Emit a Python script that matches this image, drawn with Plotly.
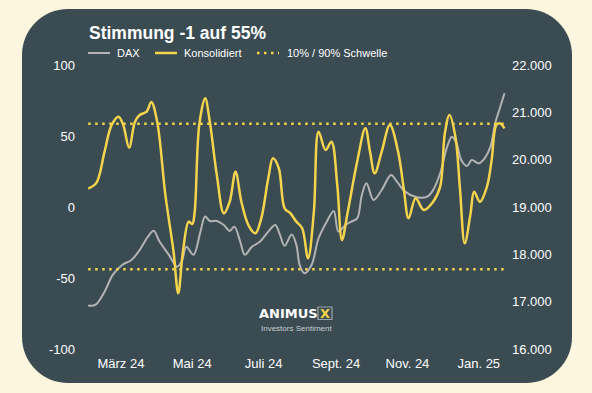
import plotly.graph_objects as go

# ---------------- data ----------------
sent_dates = [
    "2024-02-02", "2024-02-09", "2024-02-16", "2024-02-22", "2024-02-28", "2024-03-03",
    "2024-03-08", "2024-03-13", "2024-03-17", "2024-03-23", "2024-03-27", "2024-04-01",
    "2024-04-08", "2024-04-15", "2024-04-19", "2024-04-23", "2024-04-28", "2024-05-01",
    "2024-05-03", "2024-05-07", "2024-05-12", "2024-05-16", "2024-05-22", "2024-05-28",
    "2024-06-02", "2024-06-07", "2024-06-12", "2024-06-18", "2024-06-24", "2024-06-29",
    "2024-07-05", "2024-07-09", "2024-07-14", "2024-07-19", "2024-07-24", "2024-07-29",
    "2024-08-03", "2024-08-08", "2024-08-13", "2024-08-17", "2024-08-23", "2024-08-28",
    "2024-09-02", "2024-09-06", "2024-09-11", "2024-09-19", "2024-09-26", "2024-09-30",
    "2024-10-04", "2024-10-10", "2024-10-17", "2024-10-24", "2024-10-29", "2024-11-02",
    "2024-11-08", "2024-11-15", "2024-11-23", "2024-11-29", "2024-12-03", "2024-12-07",
    "2024-12-12", "2024-12-16", "2024-12-20", "2024-12-25", "2024-12-28", "2025-01-02",
    "2025-01-08", "2025-01-12", "2025-01-16", "2025-01-19", "2025-01-23",
]
sent_values = [
    13, 17, 39, 57.7, 63.6, 57.7,
    41.8, 60, 64.8, 67.1, 74, 60,
    8.5, -31.5, -60.8, -31.5, -10.3, -12,
    -4, 58, 76.5, 60, 22.5, -4.5,
    3.7, 24.9, 3.7, -12.7, -18.5, -8,
    20.2, 34.3, 27.3, -0.9, -4.5, -10.3,
    -15, -36.1, -3.3, 53, 40.1, 46,
    15.5, -23.2, -3.3, 31.9, 55.4, 39,
    23.7, 39, 57.7, 39, 12, -8,
    6.1, -2.1, 3.7, 14.3, 51.9, 64.8,
    49.5, 12, -25.6, -4.5, 10.8, 3.7,
    14.3, 33.1, 57.7, 58.9, 55.4,
]

dax_dates = [
    "2024-02-02", "2024-02-08", "2024-02-16", "2024-02-23", "2024-03-02", "2024-03-10",
    "2024-03-17", "2024-03-24", "2024-03-29", "2024-04-03", "2024-04-11", "2024-04-18",
    "2024-04-22", "2024-04-26", "2024-05-02", "2024-05-08", "2024-05-12", "2024-05-16",
    "2024-05-22", "2024-05-28", "2024-06-02", "2024-06-06", "2024-06-11", "2024-06-15",
    "2024-06-21", "2024-06-28", "2024-07-05", "2024-07-11", "2024-07-15", "2024-07-19",
    "2024-07-25", "2024-07-29", "2024-08-01", "2024-08-05", "2024-08-11", "2024-08-17",
    "2024-08-24", "2024-08-30", "2024-09-03", "2024-09-09", "2024-09-14", "2024-09-19",
    "2024-09-23", "2024-09-27", "2024-10-03", "2024-10-10", "2024-10-18", "2024-10-23",
    "2024-10-30", "2024-11-09", "2024-11-18", "2024-11-23", "2024-11-29", "2024-12-05",
    "2024-12-09", "2024-12-13", "2024-12-17", "2024-12-22", "2024-12-26", "2025-01-01",
    "2025-01-06", "2025-01-11", "2025-01-15", "2025-01-19", "2025-01-23",
]
dax_values = [
    16920, 16930, 17210, 17565, 17776, 17880,
    18090, 18370, 18500, 18270, 17990, 17740,
    17850, 18160, 17990, 18480, 18800, 18705,
    18705, 18620, 18495, 18585, 18270, 17990,
    18160, 18270, 18480, 18620, 18410, 18180,
    18420, 18200, 17760, 17600, 17776, 18340,
    18690, 18917, 18480, 18620, 18690, 18760,
    19250, 19500, 19150, 19360, 19677, 19535,
    19324, 19205, 19219, 19360, 19712, 20275,
    20486, 20346, 19994, 19867, 19994, 19923,
    20029, 20275, 20767, 21085, 21402,
]

threshold_dates = ["2024-02-02", "2025-01-23"]
threshold_values = [-43.9, 58.7]  # 10% / 90%

series_names = ["DAX", "Konsolidiert", "10% / 90% Schwelle"]
title_text = "Stimmung -1 auf 55%"

month_tickvals = ["2024-03-01", "2024-05-01", "2024-07-01", "2024-09-01", "2024-11-01", "2025-01-01"]
month_ticktext = ["März 24", "Mai 24", "Juli 24", "Sept. 24", "Nov. 24", "Jan. 25"]
left_tickvals = [-100, -50, 0, 50, 100]
left_ticktext = ["-100", "-50", "0", "50", "100"]
right_tickvals = [16000, 17000, 18000, 19000, 20000, 21000, 22000]

# ---------------- style ----------------
W, H = 592, 393
L, R, T, B = 80, 84, 65, 44
PW, PH = W - L - R, H - T - B
BG = "#FDF6DE"
PANEL = "#3A4B52"
YELLOW = "#F3D44C"
GRAY = "#B3B3B3"
FONT = "Arial, Liberation Sans, sans-serif"


def px(x):
    return (x - L) / PW


def py(y):
    return (H - B - y) / PH


fig = go.Figure()

# DAX on primary (right side) axis
fig.add_trace(go.Scatter(
    x=dax_dates, y=dax_values, name=series_names[0], mode="lines",
    line=dict(color=GRAY, width=2, shape="spline", smoothing=1.0),
    yaxis="y", showlegend=False, hoverinfo="skip"))

# thresholds + sentiment on overlaying (left side) axis
for tv in threshold_values:
    fig.add_trace(go.Scatter(
        x=threshold_dates, y=[tv, tv], name=series_names[2], mode="lines",
        line=dict(color=YELLOW, width=2.5, dash="2.5px,4.5px"),
        yaxis="y2", showlegend=False, hoverinfo="skip"))

fig.add_trace(go.Scatter(
    x=sent_dates, y=sent_values, name=series_names[1], mode="lines",
    line=dict(color=YELLOW, width=2.5, shape="spline", smoothing=1.0),
    yaxis="y2", showlegend=False, hoverinfo="skip"))

# rounded panel
x0, x1, y0, y1, r = 22, 572, 9, 383, 46
k = 0.5523


def P(x, y):
    return f"{px(x):.5f},{py(y):.5f}"


path = (
    f"M {P(x0 + r, y0)} L {P(x1 - r, y0)} "
    f"C {P(x1 - r + k * r, y0)} {P(x1, y0 + r - k * r)} {P(x1, y0 + r)} "
    f"L {P(x1, y1 - r)} "
    f"C {P(x1, y1 - r + k * r)} {P(x1 - r + k * r, y1)} {P(x1 - r, y1)} "
    f"L {P(x0 + r, y1)} "
    f"C {P(x0 + r - k * r, y1)} {P(x0, y1 - r + k * r)} {P(x0, y1 - r)} "
    f"L {P(x0, y0 + r)} "
    f"C {P(x0, y0 + r - k * r)} {P(x0 + r - k * r, y0)} {P(x0 + r, y0)} Z"
)
shapes = [dict(type="path", path=path, xref="paper", yref="paper",
               fillcolor=PANEL, line=dict(width=0), layer="below")]

# custom legend
legend_items = [
    (88, 110, 115, GRAY, "solid", 2, series_names[0]),
    (155, 177, 182, YELLOW, "solid", 2.5, series_names[1]),
    (257, 279, 285, YELLOW, "2.5px,4.5px", 2.5, series_names[2]),
]
annotations = []
ly = 53
for (a, b, tx, col, dash, wdt, name) in legend_items:
    shapes.append(dict(type="line", xref="paper", yref="paper",
                       x0=px(a), x1=px(b), y0=py(ly), y1=py(ly),
                       line=dict(color=col, width=wdt, dash=dash)))
    annotations.append(dict(text=name, xref="paper", yref="paper", x=px(tx), y=py(ly),
                            xanchor="left", yanchor="middle", showarrow=False,
                            font=dict(family=FONT, size=11, color="#FFFFFF")))

# title
annotations.append(dict(text=f"<b>{title_text}</b>", xref="paper", yref="paper",
                        x=px(87), y=py(33), xanchor="left", yanchor="middle", showarrow=False,
                        font=dict(family=FONT, size=17.5, color="#FFFFFF")))

# logo
annotations.append(dict(text="<b>ANIMUS</b>", xref="paper", yref="paper",
                        x=px(288), y=py(313.5), xanchor="center", yanchor="middle", showarrow=False,
                        font=dict(family="DejaVu Sans", size=13, color="#FFFFFF")))
annotations.append(dict(text="<b>X</b>", xref="paper", yref="paper",
                        x=px(325), y=py(313), xanchor="center", yanchor="middle", showarrow=False,
                        font=dict(family="DejaVu Sans", size=13, color=YELLOW)))
shapes.append(dict(type="rect", xref="paper", yref="paper",
                   x0=px(318), x1=px(332), y0=py(319.5), y1=py(307),
                   line=dict(color="#9AA6AA", width=1.2)))
annotations.append(dict(text="Investors Sentiment", xref="paper", yref="paper",
                        x=px(296), y=py(328.5), xanchor="center", yanchor="middle", showarrow=False,
                        font=dict(family=FONT, size=8, color="#C9D0D2")))

tickfont = dict(family=FONT, size=13, color="#FFFFFF")

fig.update_layout(
    width=W, height=H, autosize=False,
    margin=dict(l=L, r=R, t=T, b=B, pad=0),
    paper_bgcolor=BG, plot_bgcolor="rgba(0,0,0,0)",
    separators=",.",
    showlegend=False,
    shapes=shapes, annotations=annotations,
    xaxis=dict(type="date", range=["2024-01-26", "2025-01-26"],
               tickvals=month_tickvals, ticktext=month_ticktext,
               showgrid=False, zeroline=False, showline=False, ticks="",
               tickfont=tickfont, ticklabelstandoff=5),
    yaxis=dict(side="right", range=[16000, 22000], tickvals=right_tickvals,
               tickformat=",.0f", showgrid=False, zeroline=False, showline=False,
               ticks="", tickfont=tickfont, ticklabelstandoff=3),
    yaxis2=dict(side="left", overlaying="y", range=[-100, 100],
                tickvals=left_tickvals, ticktext=left_ticktext,
                showgrid=False, zeroline=False, showline=False, ticks="",
                tickfont=tickfont, ticklabelstandoff=4),
)

fig.write_html(
    "out.html",
    config={"displayModeBar": False},
    post_script="document.body.style.margin='0px';document.body.style.background='" + BG + "';",
)
